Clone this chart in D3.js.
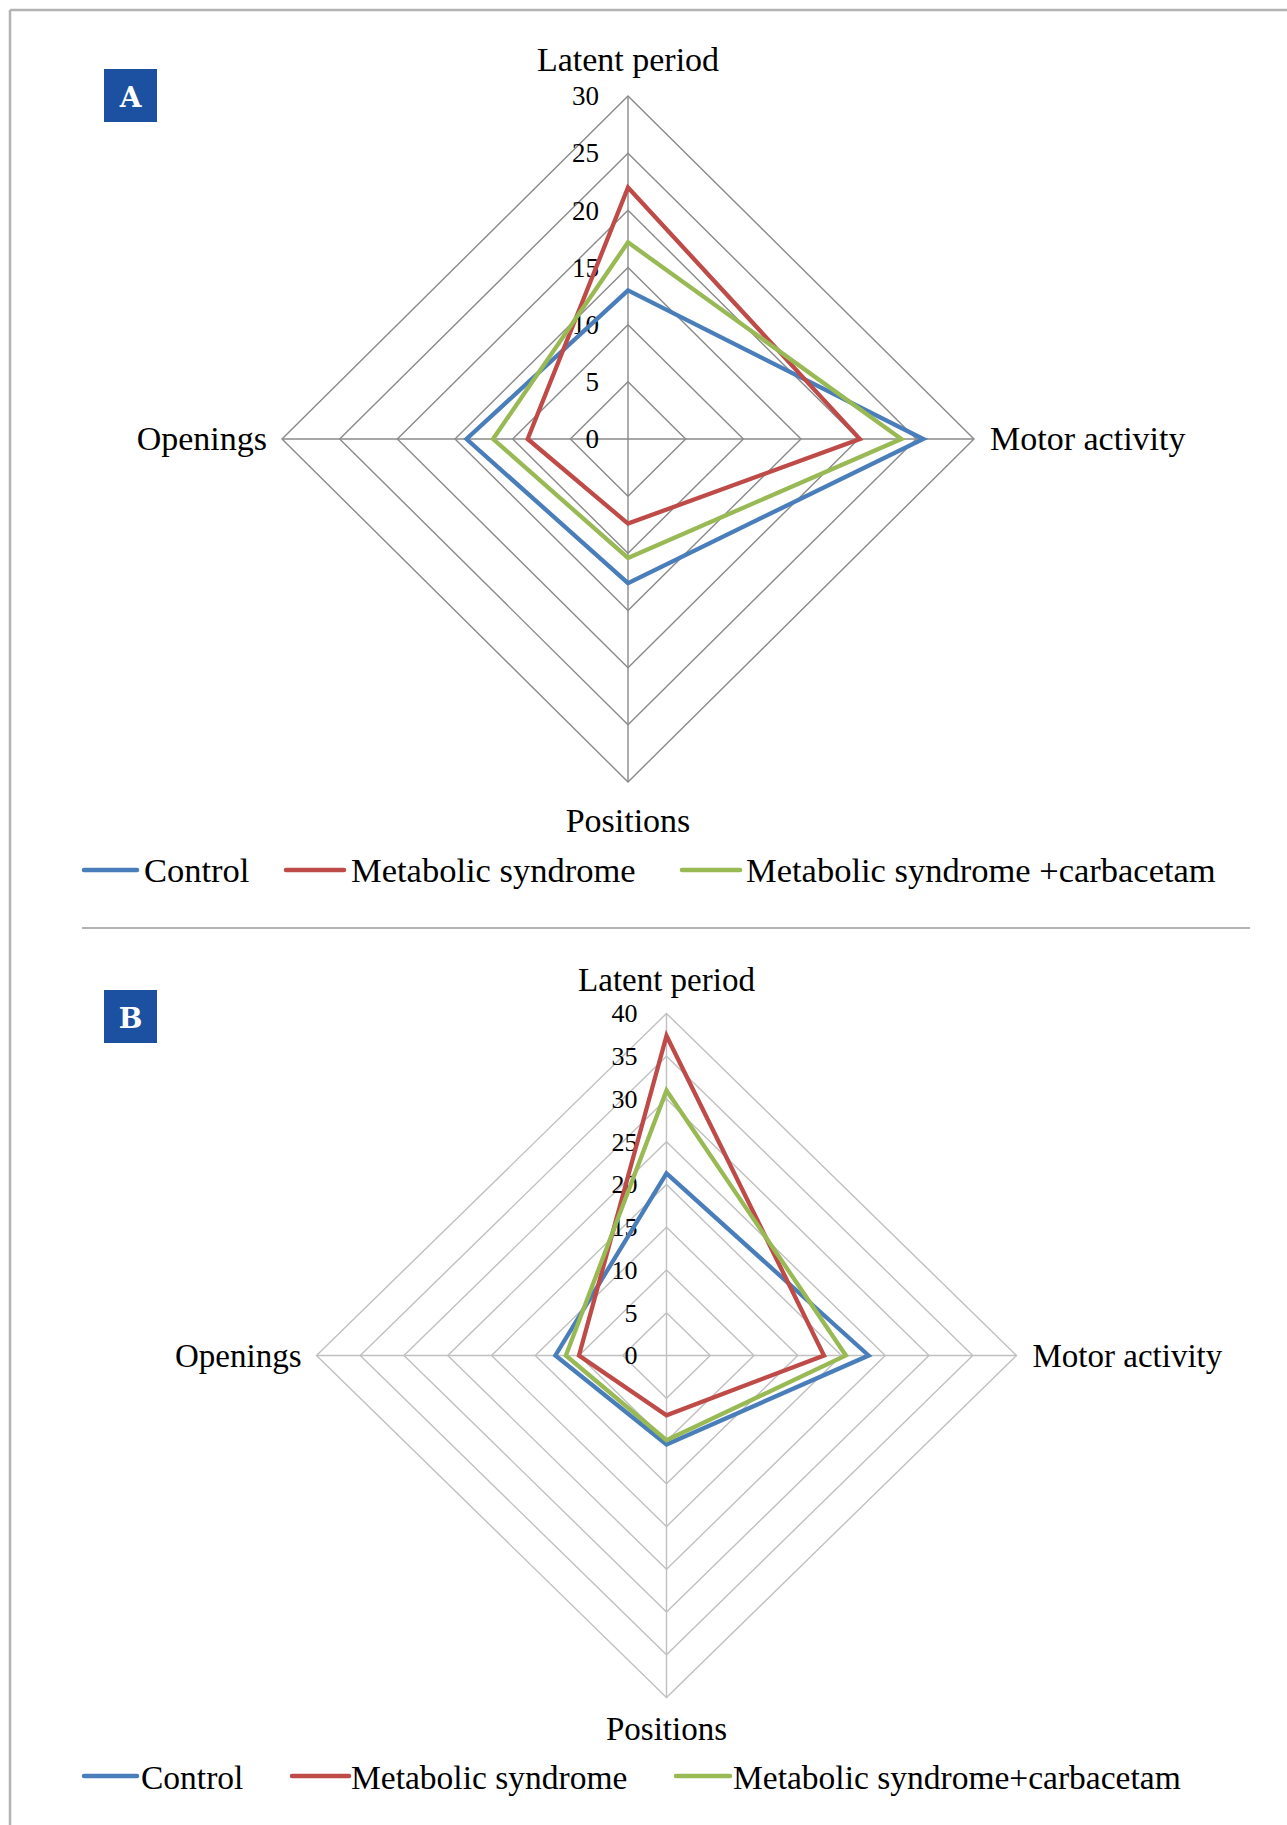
<!DOCTYPE html>
<html>
<head>
<meta charset="utf-8">
<script src="https://cdn.jsdelivr.net/npm/d3@7"></script>
<style>
  html, body { margin: 0; padding: 0; background: #fff; }
  svg { display: block; }
  text { font-family: "Liberation Serif", "Times New Roman", serif; fill: #000; }
</style>
</head>
<body>
<script>
// ---------- data ----------
const axes = ["Latent period", "Motor activity", "Positions", "Openings"];
const seriesNames = ["Control", "Metabolic syndrome", "Metabolic syndrome +carbacetam"];
const seriesNamesB = ["Control", "Metabolic syndrome", "Metabolic syndrome+carbacetam"];
const seriesColors = ["#4a7ebb", "#be4b48", "#98b954"];

const controlA = [13.0, 25.6, 12.6, 14.0];
const metabolicA = [22.0, 20.1, 7.4, 8.7];
const carbacetamA = [17.2, 23.7, 10.4, 11.7];
const ticksA = [0, 5, 10, 15, 20, 25, 30];

const controlB = [21.3, 23.1, 10.4, 12.7];
const metabolicB = [37.4, 18.0, 7.0, 10.0];
const carbacetamB = [31.0, 20.5, 9.9, 11.5];
const ticksB = [0, 5, 10, 15, 20, 25, 30, 35, 40];

const W = 1287, H = 1825;
const svg = d3.select("body").append("svg").attr("width", W).attr("height", H);

// frame (top and left) and separator
svg.append("line").attr("x1", 10).attr("y1", 10).attr("x2", W).attr("y2", 10)
  .attr("stroke", "#b3b3b3").attr("stroke-width", 2.5);
svg.append("line").attr("x1", 10).attr("y1", 10).attr("x2", 10).attr("y2", H)
  .attr("stroke", "#b3b3b3").attr("stroke-width", 2.5);
svg.append("line").attr("x1", 82).attr("y1", 928).attr("x2", 1250).attr("y2", 928)
  .attr("stroke", "#b3b3b3").attr("stroke-width", 2);

function panelLetter(letter, x, y) {
  svg.append("rect").attr("x", x).attr("y", y).attr("width", 53).attr("height", 53).attr("fill", "#1c50a1");
  svg.append("text").attr("x", x + 26.5).attr("y", y + 38).attr("text-anchor", "middle")
    .style("font-family", "'DejaVu Serif', serif").style("font-weight", "bold")
    .style("font-size", "28px").style("fill", "#fff").text(letter);
}

function radar(cfg) {
  const g = svg.append("g");
  const maxV = cfg.ticks[cfg.ticks.length - 1];
  const sx = d3.scaleLinear().domain([0, maxV]).range([0, cfg.rx]);
  const sy = d3.scaleLinear().domain([0, maxV]).range([0, cfg.ry]);
  const angle = d3.scalePoint().domain(axes).range([0, 2 * Math.PI * 3 / 4]);
  const pt = (axis, v) => {
    const a = angle(axis);
    return [cfg.cx + Math.sin(a) * sx(v), cfg.cy - Math.cos(a) * sy(v)];
  };
  const closed = d3.line().curve(d3.curveLinearClosed);

  // grid rings
  cfg.ticks.slice(1).forEach(t => {
    g.append("path").attr("d", closed(axes.map(a => pt(a, t))))
      .attr("fill", "none").attr("stroke", cfg.gridColor).attr("stroke-width", cfg.gridWidth);
  });
  // spokes
  axes.forEach(a => {
    const [x0, y0] = pt(a, 0), [x1, y1] = pt(a, maxV);
    g.append("line").attr("x1", x0).attr("y1", y0).attr("x2", x1).attr("y2", y1)
      .attr("stroke", cfg.gridColor).attr("stroke-width", cfg.gridWidth);
  });
  // tick labels
  cfg.ticks.forEach(t => {
    g.append("text").attr("x", cfg.cx - 29).attr("y", cfg.cy - sy(t))
      .attr("text-anchor", "end").attr("dy", "0.34em")
      .style("font-size", cfg.tickFont + "px").text(t);
  });
  // series
  cfg.series.forEach((vals, i) => {
    g.append("path").attr("d", closed(axes.map((a, k) => pt(a, vals[k]))))
      .attr("fill", "none").attr("stroke", seriesColors[i]).attr("stroke-width", 4.3)
      .attr("stroke-linejoin", "miter");
  });
  // axis labels
  const fs = cfg.labelFont + "px";
  g.append("text").attr("x", cfg.cx).attr("y", cfg.cy - cfg.ry - cfg.topGap).attr("text-anchor", "middle")
    .style("font-size", fs).text(axes[0]);
  g.append("text").attr("x", cfg.cx + cfg.rx + 16).attr("y", cfg.cy + 11).attr("text-anchor", "start")
    .style("font-size", fs).text(axes[1]);
  g.append("text").attr("x", cfg.cx).attr("y", cfg.cy + cfg.ry + cfg.posGap).attr("text-anchor", "middle")
    .style("font-size", fs).text(axes[2]);
  g.append("text").attr("x", cfg.cx - cfg.rx - 15).attr("y", cfg.cy + 11).attr("text-anchor", "end")
    .style("font-size", fs).text(axes[3]);

  // legend
  cfg.legend.forEach((L, i) => {
    g.append("line").attr("x1", L.x1).attr("x2", L.x2).attr("y1", cfg.legendY).attr("y2", cfg.legendY)
      .attr("stroke", seriesColors[i]).attr("stroke-width", 4.5).attr("stroke-linecap", "round");
    g.append("text").attr("x", L.tx).attr("y", cfg.legendY + cfg.legendDy)
      .style("font-size", cfg.legendFont + "px").text(cfg.names[i]);
  });
}

panelLetter("A", 104, 69);
radar({
  cx: 628, cy: 439, rx: 346, ry: 343, ticks: ticksA,
  gridColor: "#8a8a8a", gridWidth: 1.4, tickFont: 27, labelFont: 34, posGap: 50, topGap: 25,
  series: [controlA, metabolicA, carbacetamA], names: seriesNames,
  legendY: 870, legendDy: 12, legendFont: 34.5,
  legend: [{x1: 84, x2: 137, tx: 144}, {x1: 286, x2: 344, tx: 351}, {x1: 682, x2: 740, tx: 746}]
});

panelLetter("B", 104, 990);
radar({
  cx: 666.5, cy: 1355.5, rx: 350, ry: 342, ticks: ticksB,
  gridColor: "#c0c0c0", gridWidth: 1.4, tickFont: 26, labelFont: 33, posGap: 42, topGap: 23,
  series: [controlB, metabolicB, carbacetamB], names: seriesNamesB,
  legendY: 1776, legendDy: 13, legendFont: 33.5,
  legend: [{x1: 84, x2: 137, tx: 141}, {x1: 292, x2: 349, tx: 351}, {x1: 676, x2: 730, tx: 733}]
});
</script>
</body>
</html>
